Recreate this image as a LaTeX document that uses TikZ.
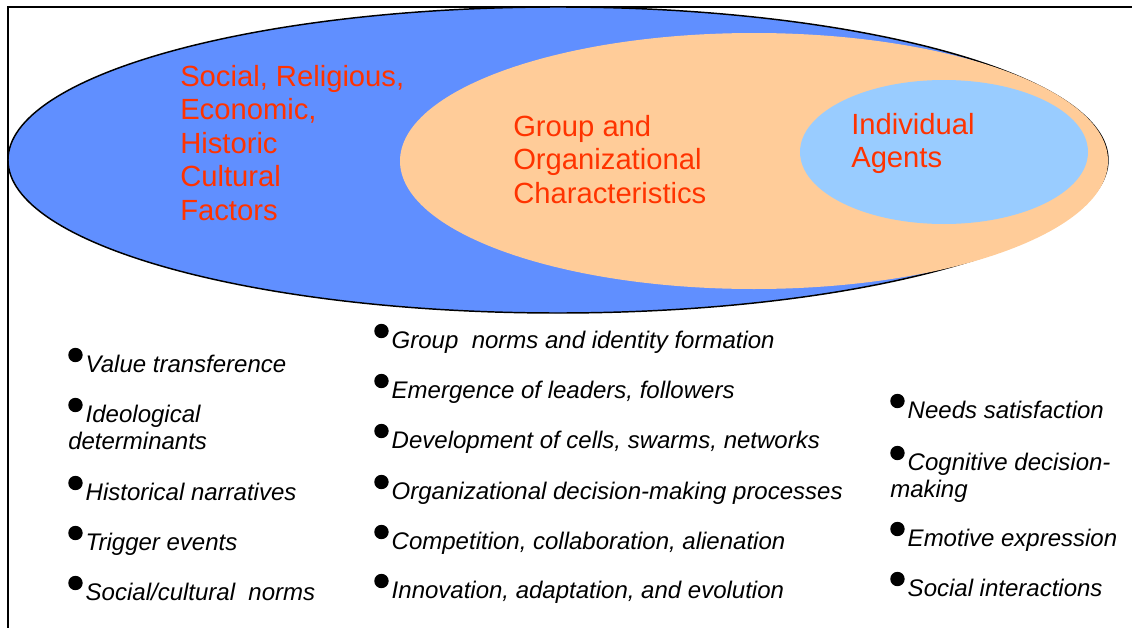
\documentclass[tikz,border=0pt]{standalone}
\usepackage{fontspec}
\setmainfont{Liberation Sans}
\usepackage{tikz}
\usetikzlibrary{positioning}
\definecolor{ctxblue}{RGB}{96,143,255}
\definecolor{grporange}{RGB}{255,204,153}
\definecolor{agentblue}{RGB}{153,204,255}
\definecolor{lvlred}{RGB}{255,51,0}
\newcommand{\itemdot}{\tikz[baseline={(0pt,-12.75pt)}]\fill (0pt,0pt) circle (5.4pt);\hspace{2.3pt}}

\begin{document}
\begin{tikzpicture}[x=0.75pt, y=-0.75pt,
    lvl/.style={font=\fontsize{21.9}{25.1}\selectfont, text=lvlred, align=left, anchor=base west, inner sep=0pt},
    point/.style={font=\fontsize{18}{20.25}\selectfont\itshape, align=left, anchor=base west, inner sep=0pt}
  ]
  \useasboundingbox (0,0) rectangle (1132,628);
  % frame
  \draw[line width=1.5pt] (8,628) -- (8,7) -- (1132,7);

  % nested levels
  \draw[fill=ctxblue, line width=1.1pt] (558,160) ellipse [x radius=550, y radius=153];
  \fill[grporange] (754,161) ellipse [x radius=354, y radius=128];
  \fill[agentblue] (944,152) ellipse [x radius=144, y radius=72];

  % labels sit on the baseline of their last line
  \node[lvl] (ctxlabel) at (180,220) {Social, Religious,\\Economic,\\Historic\\Cultural\\Factors};
  \node[lvl] (grouplabel) at (513,203) {Group and\\Organizational\\Characteristics};
  \node[lvl] (agentlabel) at (851,167.5) {Individual\\Agents};

  % societal factors
  \node[point] (ctx1) at (68,372) {\itemdot Value transference};
  \node[point] (ctx2) at (68,449) {\itemdot Ideological\\determinants};
  \node[point] (ctx3) at (68,500) {\itemdot Historical narratives};
  \node[point] (ctx4) at (68,550) {\itemdot Trigger events};
  \node[point] (ctx5) at (68,600) {\itemdot Social/cultural~ norms};

  % group factors
  \node[point] (grp1) at (374,348) {\itemdot Group~ norms and identity formation};
  \node[point] (grp2) at (374,398) {\itemdot Emergence of leaders, followers};
  \node[point] (grp3) at (374,448) {\itemdot Development of cells, swarms, networks};
  \node[point] (grp4) at (374,499) {\itemdot Organizational decision-making processes};
  \node[point] (grp5) at (374,549) {\itemdot Competition, collaboration, alienation};
  \node[point] (grp6) at (374,598) {\itemdot Innovation, adaptation, and evolution};

  % individual factors
  \node[point] (ind1) at (890,418) {\itemdot Needs satisfaction};
  \node[point] (ind2) at (890,497) {\itemdot Cognitive decision-\\making};
  \node[point] (ind3) at (890,546) {\itemdot Emotive expression};
  \node[point] (ind4) at (890,596) {\itemdot Social interactions};
\end{tikzpicture}
\end{document}
